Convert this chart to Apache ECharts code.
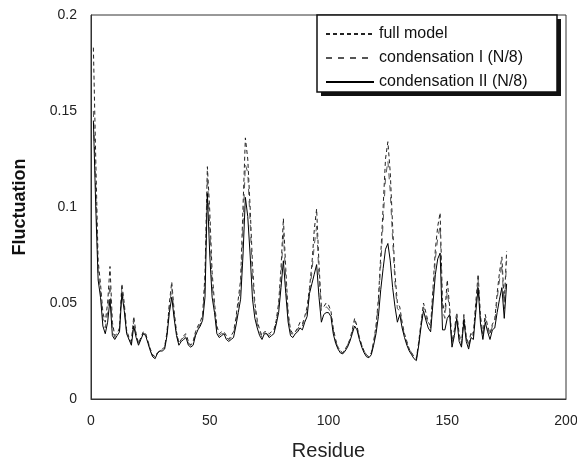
<!DOCTYPE html>
<html><head><meta charset="utf-8">
<script src="https://cdn.jsdelivr.net/npm/echarts/dist/echarts.min.js"></script>
<style>html,body{margin:0;padding:0;background:#fff}#c{width:577px;height:461px}</style>
</head><body><div id="c"></div>
<script>
var xTicks = [0, 50, 100, 150, 200];
var yTicks = [0, 0.05, 0.1, 0.15, 0.2];
var seriesNames = ['full model', 'condensation I (N/8)', 'condensation II (N/8)'];
// residue numbers 1..175
var residues = [];
for (var r = 1; r <= 175; r++) residues.push(r);

var fullModel = [
0.183,0.125,0.072,0.060,0.045,0.040,0.050,0.069,0.040,0.033,
0.034,0.037,0.060,0.050,0.036,0.032,0.030,0.043,0.034,0.029,
0.032,0.035,0.034,0.030,0.026,0.023,0.022,0.024,0.025,0.026,
0.027,0.035,0.050,0.061,0.046,0.035,0.029,0.031,0.033,0.034,
0.030,0.028,0.030,0.035,0.038,0.040,0.044,0.065,0.121,0.098,
0.066,0.050,0.038,0.034,0.035,0.035,0.033,0.031,0.033,0.035,
0.042,0.052,0.062,0.100,0.136,0.125,0.100,0.070,0.050,0.041,
0.036,0.033,0.035,0.035,0.034,0.035,0.036,0.041,0.050,0.068,
0.094,0.068,0.045,0.036,0.034,0.035,0.037,0.040,0.039,0.043,
0.048,0.058,0.070,0.088,0.099,0.070,0.048,0.048,0.050,0.049,
0.046,0.037,0.031,0.027,0.025,0.024,0.026,0.028,0.031,0.036,
0.042,0.038,0.032,0.028,0.025,0.023,0.022,0.024,0.030,0.038,
0.052,0.075,0.100,0.125,0.134,0.118,0.090,0.065,0.050,0.048,
0.040,0.034,0.030,0.026,0.024,0.022,0.021,0.030,0.040,0.050,
0.045,0.040,0.038,0.058,0.078,0.090,0.097,0.050,0.045,0.062,
0.048,0.030,0.036,0.045,0.034,0.029,0.044,0.033,0.028,0.035,
0.034,0.050,0.065,0.043,0.034,0.044,0.038,0.034,0.039,0.041,
0.055,0.066,0.074,0.050,0.077];

var condensationI = [
0.150,0.110,0.066,0.057,0.042,0.037,0.045,0.060,0.036,0.032,
0.033,0.036,0.058,0.048,0.035,0.031,0.029,0.041,0.033,0.029,
0.031,0.034,0.034,0.030,0.025,0.022,0.021,0.024,0.025,0.026,
0.027,0.034,0.048,0.058,0.044,0.034,0.029,0.031,0.032,0.033,
0.029,0.028,0.029,0.034,0.037,0.039,0.043,0.060,0.116,0.090,
0.060,0.048,0.036,0.033,0.034,0.034,0.032,0.031,0.032,0.034,
0.040,0.049,0.058,0.090,0.122,0.118,0.092,0.063,0.047,0.039,
0.035,0.032,0.034,0.034,0.033,0.034,0.035,0.040,0.048,0.064,
0.086,0.063,0.043,0.035,0.033,0.035,0.036,0.039,0.038,0.042,
0.046,0.056,0.066,0.080,0.090,0.064,0.046,0.046,0.048,0.047,
0.045,0.036,0.030,0.027,0.025,0.024,0.026,0.028,0.031,0.035,
0.041,0.037,0.032,0.028,0.025,0.023,0.022,0.024,0.029,0.037,
0.050,0.070,0.092,0.115,0.124,0.108,0.083,0.060,0.047,0.046,
0.039,0.033,0.029,0.026,0.024,0.022,0.021,0.029,0.039,0.048,
0.043,0.039,0.037,0.055,0.073,0.084,0.090,0.046,0.042,0.056,
0.046,0.029,0.035,0.044,0.032,0.028,0.043,0.032,0.027,0.034,
0.033,0.048,0.062,0.041,0.033,0.042,0.037,0.033,0.038,0.040,
0.052,0.062,0.070,0.047,0.072];

var condensationII = [
0.145,0.100,0.062,0.053,0.038,0.034,0.040,0.052,0.033,0.031,
0.033,0.035,0.055,0.046,0.034,0.031,0.028,0.038,0.032,0.028,
0.031,0.034,0.033,0.029,0.025,0.022,0.021,0.024,0.025,0.025,
0.026,0.033,0.045,0.053,0.042,0.033,0.028,0.030,0.031,0.032,
0.028,0.027,0.028,0.033,0.036,0.038,0.041,0.053,0.107,0.075,
0.053,0.045,0.034,0.032,0.033,0.034,0.031,0.030,0.031,0.032,
0.038,0.045,0.052,0.075,0.105,0.095,0.075,0.052,0.042,0.037,
0.033,0.031,0.034,0.034,0.032,0.033,0.034,0.039,0.045,0.058,
0.072,0.055,0.040,0.033,0.032,0.034,0.035,0.037,0.036,0.040,
0.043,0.055,0.060,0.065,0.070,0.053,0.040,0.044,0.045,0.045,
0.043,0.034,0.029,0.026,0.024,0.0235,0.025,0.027,0.030,0.034,
0.038,0.036,0.031,0.027,0.024,0.022,0.0215,0.023,0.028,0.034,
0.043,0.057,0.068,0.078,0.081,0.072,0.058,0.048,0.040,0.044,
0.037,0.032,0.028,0.025,0.023,0.021,0.020,0.028,0.038,0.046,
0.041,0.037,0.035,0.050,0.065,0.073,0.076,0.036,0.036,0.042,
0.044,0.027,0.033,0.042,0.030,0.027,0.041,0.030,0.026,0.032,
0.031,0.045,0.058,0.039,0.031,0.040,0.035,0.031,0.036,0.037,
0.045,0.052,0.058,0.042,0.060];

function pairs(vals){ return residues.map(function(r,i){ return [r, vals[i]]; }); }

var chart = echarts.init(document.getElementById('c'), null, {renderer:'canvas'});
var FONT = 'Liberation Sans, Arial, sans-serif';
chart.setOption({
  animation: false,
  backgroundColor: '#fff',
  grid: {left: 91, right: 11, top: 15, bottom: 62, containLabel: false, outerBoundsMode: 'none',
         show: true, borderColor: '#333', borderWidth: 1, backgroundColor: 'transparent'},
  xAxis: {
    type: 'value', min: xTicks[0], max: xTicks[xTicks.length-1], interval: 50,
    name: 'Residue', nameLocation: 'middle', nameGap: 42,
    nameTextStyle: {fontFamily: FONT, fontSize: 20, color: '#222'},
    axisLine: {show: true, lineStyle: {color: '#333', width: 1}},
    axisTick: {show: false}, splitLine: {show: false},
    axisLabel: {fontFamily: FONT, fontSize: 14, color: '#222', margin: 15}
  },
  yAxis: {
    type: 'value', min: yTicks[0], max: yTicks[yTicks.length-1], interval: 0.05,
    name: 'Fluctuation', nameLocation: 'middle', nameGap: 62, nameRotate: 90,
    nameTextStyle: {fontFamily: FONT, fontSize: 18, fontWeight: 'bold', color: '#111'},
    axisLine: {show: true, lineStyle: {color: '#333', width: 1}},
    axisTick: {show: false}, splitLine: {show: false},
    axisLabel: {fontFamily: FONT, fontSize: 14, color: '#222', margin: 14,
      formatter: function(v){ return v === 0 ? '0' : String(+v.toFixed(2)); }}
  },
  graphic: [
    {type: 'rect', z: 5, shape: {x: 321, y: 19, width: 240, height: 77}, style: {fill: '#111'}},
    {type: 'rect', z: 6, shape: {x: 317, y: 15, width: 240, height: 77},
     style: {fill: '#fff', stroke: '#111', lineWidth: 1.5}}
  ],
  legend: {
    z: 10, orient: 'vertical', left: 317, top: 15, padding: [11, 10, 8, 8],
    itemWidth: 48, itemHeight: 14, itemGap: 8,
    itemStyle: {opacity: 0},
    textStyle: {fontFamily: FONT, fontSize: 16, color: '#111'},
    data: seriesNames
  },
  series: [
    {name: seriesNames[0], type: 'line', data: pairs(fullModel), showSymbol: false, symbol: 'none',
     lineStyle: {color: '#222', width: 1, type: [4, 3]}, itemStyle: {color: '#222'}, z: 2},
    {name: seriesNames[1], type: 'line', data: pairs(condensationI), showSymbol: false, symbol: 'none',
     lineStyle: {color: '#555', width: 1, type: [6, 6]}, itemStyle: {color: '#555'}, z: 3},
    {name: seriesNames[2], type: 'line', data: pairs(condensationII), showSymbol: false, symbol: 'none',
     lineStyle: {color: '#000', width: 1, type: 'solid'}, itemStyle: {color: '#000'}, z: 4}
  ]
});
</script></body></html>
